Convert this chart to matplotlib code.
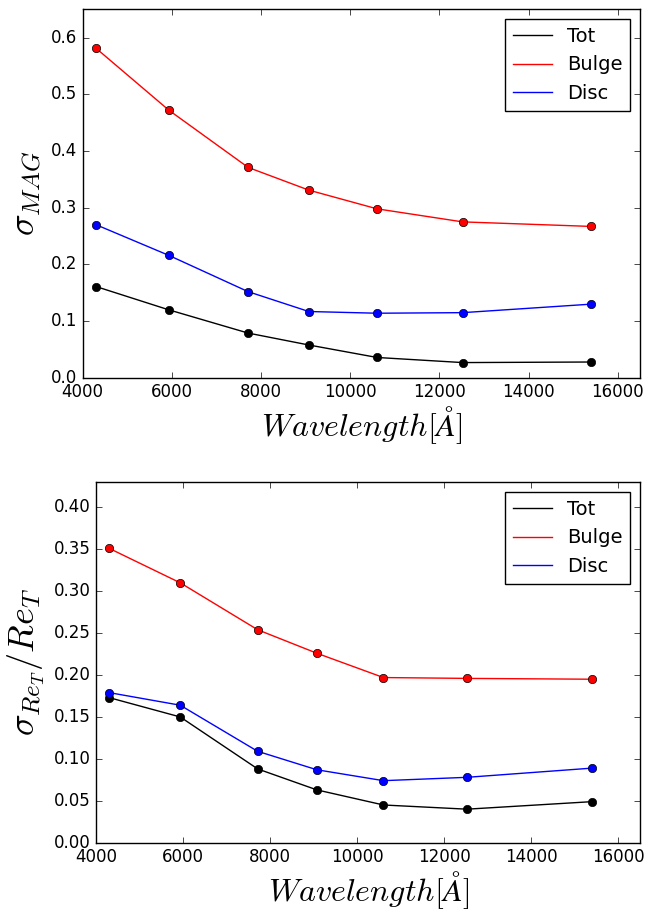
import numpy as np
import matplotlib
matplotlib.use('Agg')
import matplotlib.pyplot as plt

plt.style.use('classic')
plt.rcParams['mathtext.fontset'] = 'cm'
plt.rcParams['figure.facecolor'] = 'white'
plt.rcParams['savefig.facecolor'] = 'white'

wave = [4300, 5930, 7710, 9070, 10600, 12520, 15400]

# sigma MAG
mag_tot = [0.161, 0.120, 0.079, 0.058, 0.036, 0.027, 0.028]
mag_bulge = [0.581, 0.472, 0.371, 0.331, 0.298, 0.275, 0.267]
mag_disc = [0.270, 0.216, 0.152, 0.117, 0.114, 0.115, 0.130]

# sigma Re / Re
re_tot = [0.173, 0.150, 0.088, 0.063, 0.045, 0.040, 0.049]
re_bulge = [0.351, 0.310, 0.254, 0.226, 0.197, 0.196, 0.195]
re_disc = [0.179, 0.164, 0.109, 0.087, 0.074, 0.078, 0.089]

fig = plt.figure(figsize=(6.46, 9.15), dpi=100)
ax1 = fig.add_axes([0.128, 0.587, 0.863, 0.403])
ax2 = fig.add_axes([0.149, 0.079, 0.842, 0.394])

def panel(ax, tot, bulge, disc, ylim, ylabel):
    for y, c, lab in [(tot, 'k', 'Tot'), (bulge, 'r', 'Bulge'), (disc, 'b', 'Disc')]:
        ax.plot(wave, y, '-', color=c, lw=1, label=lab)
        ax.plot(wave, y, 'o', color=c, mec='k', ms=6)
    ax.set_xlim(4000, 16500)
    ax.set_ylim(0, ylim)
    ax.set_xticks([4000, 6000, 8000, 10000, 12000, 14000, 16000])
    ax.tick_params(labelsize=12)
    ax.set_xlabel(r'$Wavelength[\AA]$', fontsize=23, labelpad=2)
    ax.set_ylabel(ylabel, fontsize=26)
    ax.legend(loc='upper right', fontsize=14, numpoints=1)

panel(ax1, mag_tot, mag_bulge, mag_disc, 0.65, r'$\sigma_{MAG}$')
panel(ax2, re_tot, re_bulge, re_disc, 0.43, r'$\sigma_{Re_T}/Re_T$')
ax2.set_yticks(np.arange(0, 0.41, 0.05))

fig.savefig('out.png', dpi=100)
